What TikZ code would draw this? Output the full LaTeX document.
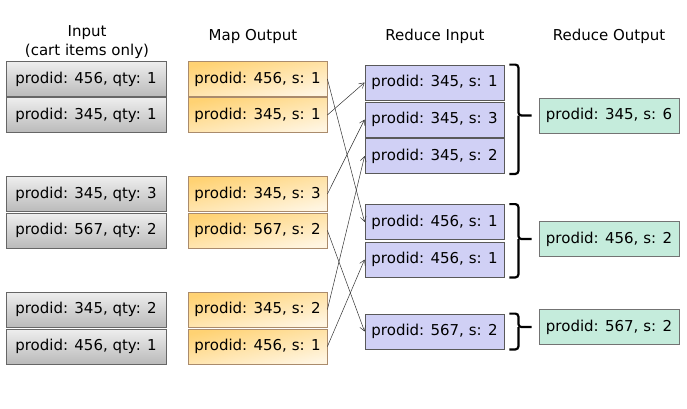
\documentclass[tikz,border=0pt]{standalone}
\usepackage{fontspec}
\setmainfont{DejaVu Sans}
\usepackage{xcolor}
\usetikzlibrary{arrows.meta}
\definecolor{ingray}{RGB}{238, 238, 238}
\definecolor{indark}{RGB}{186, 186, 186}
\definecolor{maptop}{RGB}{255, 210, 115}
\definecolor{mapbot}{RGB}{255, 245, 225}
\definecolor{redblue}{RGB}{208, 208, 245}
\definecolor{redgreen}{RGB}{197, 236, 220}

\tikzset{
  box/.style={draw, line width=0.8pt, minimum height=35pt, inner sep=0pt,
    font=\fontsize{15}{18}\selectfont},
  inbox/.style={box, draw=black!60, minimum width=160pt, top color=ingray, bottom color=indark},
  mapbox/.style={box, draw=brown!70!black!70, minimum width=139pt, top color=maptop,
    bottom color=mapbot, shading angle=12},
  redin/.style={box, draw=black!65, minimum width=139pt, fill=redblue},
  redout/.style={box, draw=black!55, minimum width=140pt, fill=redgreen},
  head/.style={font=\fontsize{15}{19}\selectfont, align=center},
  bracket/.style={line width=2.2pt, rounded corners=3pt}
}

\begin{document}
\begin{tikzpicture}[x=1pt,y=-1pt]
  \useasboundingbox (0,0) rectangle (687,408);
  % headers
  \node[head] (hin) at (87,42) {Input\\(cart items only)};
  \node[head] (hmap) at (253,36) {Map Output};
  \node[head] (hrin) at (435,36) {Reduce Input};
  \node[head] (hrout) at (609,36) {Reduce Output};
  % input
  \node[inbox] (i1) at (86,79) {prodid: 456, qty: 1};
  \node[inbox] (i2) at (86,115) {prodid: 345, qty: 1};
  \node[inbox] (i3) at (86,194) {prodid: 345, qty: 3};
  \node[inbox] (i4) at (86,230.5) {prodid: 567, qty: 2};
  \node[inbox] (i5) at (86,309.5) {prodid: 345, qty: 2};
  \node[inbox] (i6) at (86,346.5) {prodid: 456, qty: 1};
  % map output
  \node[mapbox] (m1) at (257.5,79) {prodid: 456, s: 1};
  \node[mapbox] (m2) at (257.5,115) {prodid: 345, s: 1};
  \node[mapbox] (m3) at (257.5,194) {prodid: 345, s: 3};
  \node[mapbox] (m4) at (257.5,230.5) {prodid: 567, s: 2};
  \node[mapbox] (m5) at (257.5,309.5) {prodid: 345, s: 2};
  \node[mapbox] (m6) at (257.5,346.5) {prodid: 456, s: 1};
  % reduce input
  \node[redin] (r1) at (434.5,82.5) {prodid: 345, s: 1};
  \node[redin] (r2) at (434.5,119.5) {prodid: 345, s: 3};
  \node[redin] (r3) at (434.5,156) {prodid: 345, s: 2};
  \node[redin] (r4) at (434.5,222) {prodid: 456, s: 1};
  \node[redin] (r5) at (434.5,259.5) {prodid: 456, s: 1};
  \node[redin] (r6) at (434.5,331.5) {prodid: 567, s: 2};
  % reduce output
  \node[redout] (o1) at (609,115.5) {prodid: 345, s: 6};
  \node[redout] (o2) at (609,239) {prodid: 456, s: 2};
  \node[redout] (o3) at (609,327) {prodid: 567, s: 2};
  % shuffle
  \path[-{Straight Barb[length=5pt,width=6pt]}, line width=0.5pt, black!80]
    (m1.east) edge (r4.west)
    (m2.east) edge (r1.west)
    (m3.east) edge (r2.west)
    (m4.east) edge (r6.west)
    (m5.east) edge (r3.west)
    (m6.east) edge (r5.west);
  % brackets
  \draw[bracket] ([xshift=5pt]r1.north east) -| ([xshift=14pt]o1.west -| r1.east)
    -- ([xshift=-7pt]o1.west);
  \draw[bracket] ([xshift=5pt]r3.south east) -| ([xshift=14pt]o1.west -| r1.east);
  \draw[bracket] ([xshift=5pt]r4.north east) -| ([xshift=14pt]o2.west -| r4.east)
    -- ([xshift=-7pt]o2.west);
  \draw[bracket] ([xshift=5pt]r5.south east) -| ([xshift=14pt]o2.west -| r4.east);
  \draw[bracket] ([xshift=5pt]r6.north east) -| ([xshift=14pt]o3.west -| r6.east)
    -- ([xshift=-7pt]o3.west);
  \draw[bracket] ([xshift=5pt]r6.south east) -| ([xshift=14pt]o3.west -| r6.east);
\end{tikzpicture}
\end{document}
